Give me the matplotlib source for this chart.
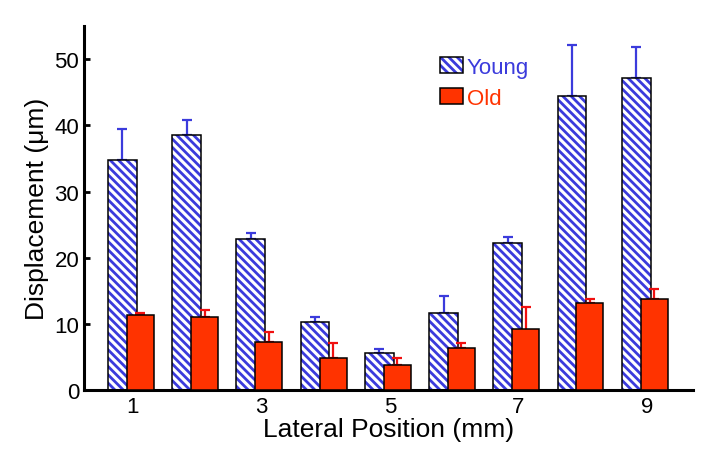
import numpy as np
import matplotlib.pyplot as plt
from matplotlib.legend_handler import HandlerTuple

plt.rcParams['font.family'] = ['Liberation Sans', 'DejaVu Sans']
plt.rcParams['hatch.linewidth'] = 2.0

positions = [1, 2, 3, 4, 5, 6, 7, 8, 9]
young = [34.8, 38.6, 22.9, 10.3, 5.6, 11.6, 22.2, 44.4, 47.1]
young_err = [4.6, 2.2, 0.9, 0.8, 0.6, 2.6, 1.0, 7.7, 4.7]
old = [11.4, 11.1, 7.3, 4.8, 3.8, 6.3, 9.2, 13.2, 13.7]
old_err = [0.3, 1.0, 1.4, 2.3, 1.0, 0.8, 3.3, 0.6, 1.5]
old_err_low = [0, 0, 0, 0, 0, 0, 3.4, 0, 0]

blue = '#3b3bdc'
red = '#ff3300'

fig = plt.figure(figsize=(7.13, 4.6), dpi=100)
ax = fig.add_axes([0.118, 0.15, 0.854, 0.791])

x = np.array(positions)
# hatched young bars, outline drawn separately so hatch stays blue
yh = ax.bar(x - 0.165, young, width=0.45, color='white', edgecolor=blue, hatch='\\\\\\\\',
            linewidth=0, zorder=2)
yo = ax.bar(x - 0.165, young, width=0.45, color='none', edgecolor='black', linewidth=1.1, zorder=3)
ax.errorbar(x - 0.165, young, yerr=[np.zeros(9), young_err], fmt='none', ecolor=blue,
            elinewidth=1.6, capsize=3.6, capthick=1.6, zorder=1)

ob = ax.bar(x + 0.115, old, width=0.42, color=red, edgecolor='black', linewidth=1.1, zorder=4)
ax.errorbar(x + 0.115, old, yerr=[old_err_low, old_err], fmt='none', ecolor='#f01010',
            elinewidth=1.6, capsize=3.6, capthick=1.6, zorder=3.5)

ax.set_xlim(0.24, 9.72)
ax.set_ylim(0, 55)
ax.set_yticks([0, 10, 20, 30, 40, 50])
ax.set_xticks([1, 3, 5, 7, 9])
ax.tick_params(axis='both', labelsize=16, direction='in', width=2, length=4)
ax.tick_params(axis='x', length=0, pad=4)

for s in ['top', 'right']:
    ax.spines[s].set_visible(False)
for s in ['left', 'bottom']:
    ax.spines[s].set_linewidth(2.2)

ax.set_xlabel('Lateral Position (mm)', fontsize=19, labelpad=0)
ax.set_ylabel('Displacement (\u03bcm)', fontsize=19, labelpad=4)

leg = ax.legend([(yh[0], yo[0]), ob[0]], ['Young', 'Old'],
                handler_map={tuple: HandlerTuple(ndivide=1)},
                loc='upper left', bbox_to_anchor=(0.585, 0.916), frameon=False, fontsize=16,
                handlelength=1.0, handleheight=0.75, handletextpad=0.2, labelspacing=0.45,
                borderaxespad=0, borderpad=0)
for t, c in zip(leg.get_texts(), [blue, red]):
    t.set_color(c)

fig.savefig('out.png', dpi=100)
